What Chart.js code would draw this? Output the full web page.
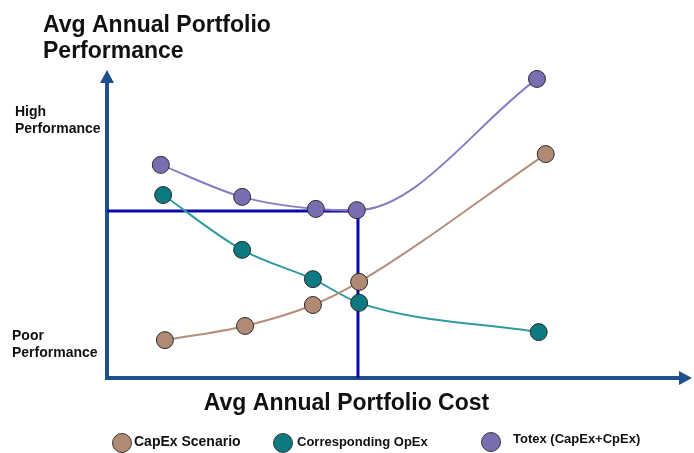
<!DOCTYPE html>
<html>
<head>
<meta charset="utf-8">
<script src="https://cdn.jsdelivr.net/npm/chart.js@4.4.1/dist/chart.umd.min.js"></script>
<style>
  html, body { margin: 0; padding: 0; background: #fff; }
</style>
</head>
<body>
<canvas id="chart" width="694" height="453"></canvas>
<script>
// cost (x) and performance (y), both on a 0-100 relative scale
const capexCost = [9.9, 23.6, 35.2, 43.1, 75.0]
const capexPerf = [12.3, 16.9, 23.7, 31.2, 72.7]
const opexCost = [9.6, 23.1, 35.2, 43.1, 73.8]
const opexPerf = [59.4, 41.6, 32.1, 24.4, 14.9]
const totexCost = [9.2, 23.1, 35.7, 42.7, 73.5]
const totexPerf = [69.2, 58.8, 54.9, 54.5, 97.1]

// optimum Totex point marked by the crosshair
const optimumCost = 42.9
const optimumPerf = 54.2

const seriesLabels = ["CapEx Scenario", "Corresponding OpEx", "Totex (CapEx+CpEx)"]
const levelLabels = [["High", "Performance"], ["Poor", "Performance"]]
const levelValues = [85.1, 12.3]
const titleLines = ["Avg Annual Portfolio", "Performance"]
const xTitle = "Avg Annual Portfolio Cost"

const toPoints = (xs, ys) => xs.map((x, i) => ({ x: x, y: ys[i] }))

const AXIS = "#1f4f8c"
const FONT = '"Liberation Sans", Arial, sans-serif'

function series(label, xs, ys, fill, line) {
  return {
    label: label,
    data: toPoints(xs, ys),
    showLine: true,
    borderColor: line,
    backgroundColor: fill,
    borderWidth: 2,
    pointRadius: 8.5,
    pointBackgroundColor: fill,
    pointBorderColor: "#2b2b2b",
    pointBorderWidth: 1,
    cubicInterpolationMode: "monotone",
    clip: false,
    order: 1
  }
}

const decorations = {
  id: "decorations",
  beforeDatasetsDraw(chart) {
    const { ctx, chartArea: a } = chart
    ctx.save()
    ctx.strokeStyle = AXIS
    ctx.fillStyle = AXIS
    ctx.lineWidth = 4
    ctx.beginPath()
    ctx.moveTo(a.left, a.top + 10)
    ctx.lineTo(a.left, a.bottom)
    ctx.lineTo(a.right - 10, a.bottom)
    ctx.stroke()
    // arrow heads
    ctx.beginPath()
    ctx.moveTo(a.left, a.top)
    ctx.lineTo(a.left - 7, a.top + 13)
    ctx.lineTo(a.left + 7, a.top + 13)
    ctx.closePath()
    ctx.fill()
    ctx.beginPath()
    ctx.moveTo(a.right, a.bottom)
    ctx.lineTo(a.right - 13, a.bottom - 7)
    ctx.lineTo(a.right - 13, a.bottom + 7)
    ctx.closePath()
    ctx.fill()
    ctx.restore()
  },
  afterDraw(chart) {
    const { ctx, chartArea: a, scales } = chart
    ctx.save()
    ctx.fillStyle = "#111"
    ctx.textBaseline = "alphabetic"
    ctx.textAlign = "left"

    ctx.font = "bold 23px " + FONT
    titleLines.forEach((t, i) => ctx.fillText(t, 43, 32 + i * 26))

    ctx.textAlign = "center"
    ctx.fillText(xTitle, (a.left + a.right) / 2 - 53, 410)

    ctx.textAlign = "left"
    ctx.font = "bold 14px " + FONT
    const levelX = [15, 12]
    levelLabels.forEach((lines, i) => {
      const y = scales.y.getPixelForValue(levelValues[i])
      lines.forEach((t, j) => ctx.fillText(t, levelX[i], y + j * 17))
    })

    // legend
    const itemX = [122, 283, 491]
    const itemY = [443, 443, 442]
    const textGap = [12, 14, 22]
    const textY = [442, 442, 439]
    const itemFont = [14, 13, 13]
    chart.data.datasets.forEach((ds, i) => {
      if (!seriesLabels.includes(ds.label)) return
      ctx.beginPath()
      ctx.arc(itemX[i], itemY[i], 9.5, 0, Math.PI * 2)
      ctx.fillStyle = ds.pointBackgroundColor
      ctx.fill()
      ctx.lineWidth = 1
      ctx.strokeStyle = "#3a3a3a"
      ctx.stroke()
      ctx.fillStyle = "#111"
      ctx.font = "bold " + itemFont[i] + "px " + FONT
      ctx.textBaseline = "middle"
      ctx.fillText(ds.label, itemX[i] + textGap[i], textY[i])
    })
    ctx.restore()
  }
}

new Chart(document.getElementById("chart"), {
  type: "scatter",
  data: {
    datasets: [
      series(seriesLabels[0], capexCost, capexPerf, "#b08a72", "#b48f7a"),
      series(seriesLabels[1], opexCost, opexPerf, "#0c7a80", "#2f9aa0"),
      series(seriesLabels[2], totexCost, totexPerf, "#7b6eb0", "#8a7cc2"),
      {
        label: "optimum",
        data: [
          { x: 0, y: optimumPerf },
          { x: optimumCost, y: optimumPerf },
          { x: optimumCost, y: 0 }
        ],
        showLine: true,
        borderColor: "#0a0aa8",
        borderWidth: 3,
        pointRadius: 0,
        tension: 0,
        clip: false,
        order: 5
      }
    ]
  },
  options: {
    responsive: false,
    animation: false,
    events: [],
    layout: {
      autoPadding: false,
      padding: { left: 107, right: 2, top: 70, bottom: 75 }
    },
    plugins: {
      legend: { display: false },
      tooltip: { enabled: false }
    },
    scales: {
      x: { type: "linear", min: 0, max: 100, display: false },
      y: { type: "linear", min: 0, max: 100, display: false }
    }
  },
  plugins: [decorations]
})
</script>
</body>
</html>
